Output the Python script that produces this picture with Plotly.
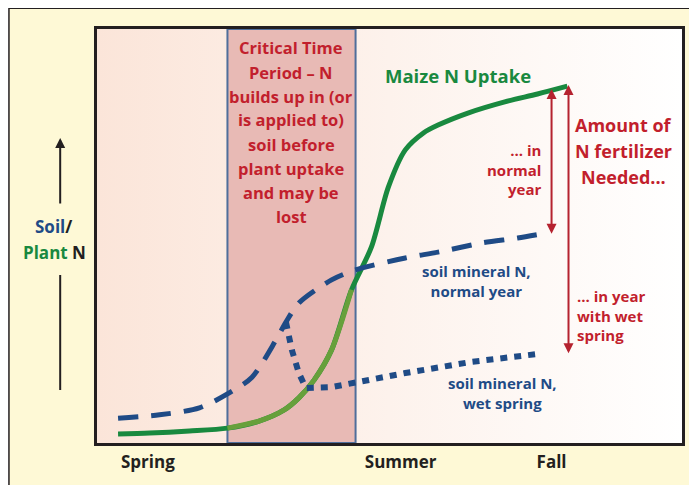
import plotly.graph_objects as go

# ---------------- data (x: season time 0-100, y: relative N 0-100) ----------------
maize_x = [3.6, 9.0, 15.8, 22.3, 27.7, 32.0, 34.5, 37.1, 40.1, 43.5, 46.9, 49.8, 52.7, 55.8, 58.3, 63.4, 69.7, 75.3, 80.4]
maize_y = [2.2, 2.4, 2.9, 3.6, 5.3, 8.0, 10.9, 15.2, 22.5, 37.0, 47.3, 61.8, 70.8, 74.9, 76.8, 79.7, 82.4, 84.3, 86.2]

normal_x = [3.6, 10.7, 17.5, 22.6, 26.5, 30.6, 32.3, 34.5, 40.1, 44.2, 52.7, 58.3, 65.7, 71.9, 76.7]
normal_y = [6.0, 6.8, 8.5, 12.1, 15.9, 24.9, 29.2, 33.8, 39.4, 41.8, 44.7, 46.1, 48.3, 49.5, 50.7]

wet_x = [32.3, 33.3, 34.5, 35.7, 40.1, 44.2, 52.7, 64.0, 75.3]
wet_y = [29.2, 22.5, 16.9, 13.3, 13.5, 14.7, 16.9, 19.6, 21.5]

season_ticks = [8.7, 51.9, 77.7]
season_labels = ["Spring", "Summer", "Fall"]

critical_period = [22.3, 44.2]  # start, end of critical time period

need_normal = [77.7, 85.5, 50.2]  # x, top, bottom
need_wet = [80.6, 86.5, 21.3]

# ---------------- styling ----------------
FONT = "Open Sans"
RED = "#c21f2d"
BLUE = "#1f4b86"
GREEN = "#19893f"
OLIVE = "#67a03b"
DARK = "#231f20"

OFF = 8  # page body margin
W, H = 697 - OFF, 485 - OFF
L, R, T, B = 97, 685, 29, 443  # plot area in screen pixels


def px(x):
    return (x - L) / (R - L)


def py(y):
    return (B - y) / (B - T)


fig = go.Figure()

# plot-area gradient background
fig.add_trace(go.Scatter(
    x=[0, 100, 100, 0, 0], y=[0, 0, 100, 100, 0], mode="lines",
    line=dict(width=0), fill="toself",
    fillgradient=dict(type="horizontal", colorscale=[[0, "#fbe5d9"], [1, "#ffffff"]]),
    hoverinfo="skip", showlegend=False))

# critical period box
c0, c1 = critical_period
fig.add_trace(go.Scatter(
    x=[c0, c1, c1, c0, c0], y=[0, 0, 100, 100, 0], mode="lines",
    line=dict(color="#4f6e9b", width=2), fill="toself", fillcolor="#e8bab5",
    hoverinfo="skip", showlegend=False))

# maize uptake (full, dark green)
fig.add_trace(go.Scatter(
    x=maize_x, y=maize_y, mode="lines", line=dict(color=GREEN, width=5, shape="spline", smoothing=0.8),
    showlegend=False, hoverinfo="skip"))
# segment inside critical box rendered lighter
inside = [(x, y) for x, y in zip(maize_x, maize_y) if c0 <= x <= c1 + 0.8]
fig.add_trace(go.Scatter(
    x=[p[0] for p in inside], y=[p[1] for p in inside], mode="lines",
    line=dict(color=OLIVE, width=5, shape="spline", smoothing=0.8),
    showlegend=False, hoverinfo="skip"))

# soil mineral N, normal year
fig.add_trace(go.Scatter(
    x=normal_x, y=normal_y, mode="lines",
    line=dict(color=BLUE, width=5, dash="20px,13px", shape="spline", smoothing=0.8),
    showlegend=False, hoverinfo="skip"))

# soil mineral N, wet spring
fig.add_trace(go.Scatter(
    x=wet_x, y=wet_y, mode="lines",
    line=dict(color=BLUE, width=6, dash="7px,7px"),
    showlegend=False, hoverinfo="skip"))

shapes = [
    # outer cream frame
    dict(type="rect", xref="paper", yref="paper", x0=px(8.5), x1=px(705), y0=py(495), y1=py(8.3),
         fillcolor="#fef9d6", line=dict(color=DARK, width=1.5), layer="below"),
    # lower part of the y indicator
    dict(type="line", xref="paper", yref="paper", x0=px(60), x1=px(60), y0=py(275), y1=py(390),
         line=dict(color=DARK, width=2)),
]

annotations = []


def add_lines(lines, x, y_first, spacing, size, color, xanchor="center"):
    for i, t in enumerate(lines):
        annotations.append(dict(
            xref="paper", yref="paper", x=px(x), y=py(y_first + i * spacing),
            text=f"<b>{t}</b>", showarrow=False, xanchor=xanchor, yanchor="middle",
            align={"center": "center", "right": "right", "left": "left"}[xanchor],
            font=dict(family=FONT, size=size, color=color)))


def add_block(lines, x, y_mid, size, color, xanchor="center"):
    annotations.append(dict(
        xref="paper", yref="paper", x=px(x), y=py(y_mid),
        text="<br>".join(f"<b>{t}</b>" for t in lines), showarrow=False,
        xanchor=xanchor, yanchor="middle",
        align={"center": "center", "right": "right", "left": "left"}[xanchor],
        font=dict(family=FONT, size=size, color=color)))


add_lines(["Critical Time", "Period – N", "builds up in (or", "is applied to)", "soil before",
           "plant uptake", "and may be", "lost"], 292, 48, 24, 16.5, RED)
add_lines(["Maize N Uptake"], 460, 75, 0, 18.5, GREEN)
add_block(["... in", "normal", "year"], 546, 170, 15, RED, "right")
add_lines(["Amount of", "N fertilizer", "Needed..."], 626, 125, 26, 18, RED)
add_block(["soil mineral N,", "normal year"], 478, 281, 15, BLUE)
add_block(["... in year", "with wet", "spring"], 577, 315, 15, RED, "left")
add_block(["soil mineral N,", "wet spring"], 505, 393, 15, BLUE)

annotations.append(dict(
    xref="paper", yref="paper", x=px(53), y=py(226), showarrow=False, xanchor="center", yanchor="middle",
    text=f"<b><span style='color:{BLUE}'>Soil</span>/</b>",
    font=dict(family=FONT, size=17, color=DARK)))
annotations.append(dict(
    xref="paper", yref="paper", x=px(54), y=py(253), showarrow=False, xanchor="center", yanchor="middle",
    text=f"<b><span style='color:{GREEN}'>Plant</span> N</b>",
    font=dict(family=FONT, size=17, color=DARK)))

# y indicator arrow
annotations.append(dict(
    xref="paper", yref="paper", x=px(60), y=py(138), ax=0, ay=205 - 138, text="",
    showarrow=True, arrowhead=2, arrowsize=1, arrowwidth=2, arrowcolor=DARK))

# fertilizer need arrows
for xv, top, bot in (need_normal, need_wet):
    annotations.append(dict(
        x=xv, y=top, ax=xv, ay=bot, xref="x", yref="y", axref="x", ayref="y", text="",
        showarrow=True, arrowhead=2, arrowside="end+start", arrowsize=1, arrowwidth=2,
        arrowcolor="#b5222f", standoff=0, startstandoff=0))

fig.update_layout(
    width=W, height=H,
    margin=dict(l=L - OFF, r=697 - R, t=T - OFF, b=485 - B, pad=0),
    paper_bgcolor="#ffffff", plot_bgcolor="rgba(0,0,0,0)",
    shapes=shapes, annotations=annotations, showlegend=False,
    font=dict(family=FONT),
)
fig.update_xaxes(range=[0, 100], showgrid=False, zeroline=False, showline=True, mirror=True,
                 linecolor=DARK, linewidth=3, tickvals=season_ticks, ticktext=[f"<b>{s}</b>" for s in season_labels],
                 ticks="", tickfont=dict(family=FONT, size=17, color=DARK), ticklabelstandoff=2)
fig.update_yaxes(range=[0, 100], showgrid=False, zeroline=False, showline=True, mirror=True,
                 linecolor=DARK, linewidth=3, showticklabels=False, ticks="")

fig.write_html("out.html")
